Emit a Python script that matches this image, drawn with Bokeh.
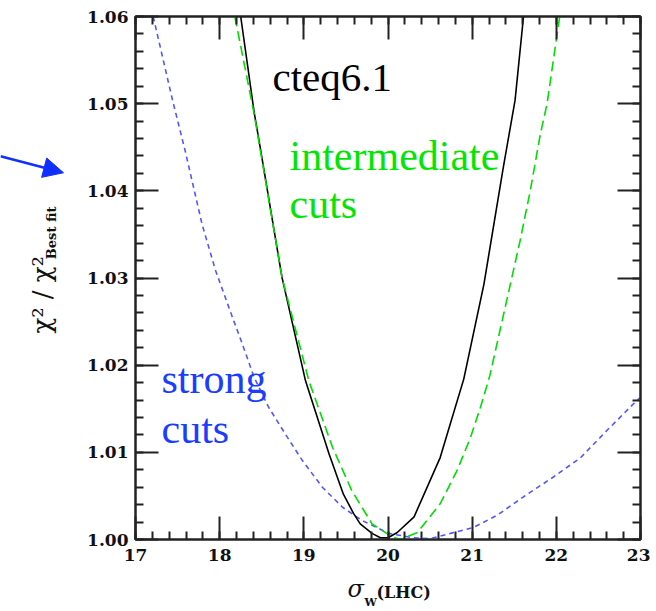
import math
from bokeh.plotting import figure
from bokeh.layouts import row, column
from bokeh.models import (Range1d, LinearAxis, Label, Arrow, NormalHead,
                          SingleIntervalTicker, PrintfTickFormatter, CustomJSTickFormatter)
from bokeh.embed import file_html
from bokeh.resources import INLINE

# ---- data ----
cteq_x = [18.25, 18.41, 18.49, 18.74, 19.02, 19.30, 19.47, 19.59, 19.67, 19.81, 19.91, 20.00,
          20.11, 20.31, 20.62, 20.90, 21.14, 21.37, 21.51, 21.61]
cteq_y = [1.0600, 1.0490, 1.0445, 1.0301, 1.0182, 1.0098, 1.0052, 1.0030, 1.0018, 1.0007, 1.0002, 1.0002,
          1.0008, 1.0026, 1.0094, 1.0184, 1.0293, 1.0427, 1.0504, 1.0600]

inter_x = [18.18, 18.41, 18.74, 19.06, 19.34, 19.57, 19.81, 20.05, 20.15, 20.35, 20.62,
           20.82, 20.98, 21.10, 21.21, 21.41, 21.57, 21.69, 21.81, 21.89, 22.04]
inter_y = [1.0600, 1.0488, 1.0301, 1.0182, 1.0106, 1.0056, 1.0018, 1.0003, 1.0000, 1.0008, 1.0041,
           1.0079, 1.0117, 1.0152, 1.0188, 1.0274, 1.0343, 1.0400, 1.0465, 1.0500, 1.0600]

strong_x = [17.21, 17.44, 17.59, 17.79, 17.95, 18.11, 18.27, 18.41, 18.58, 18.78, 18.98,
            19.22, 19.46, 19.69, 20.01, 20.30, 20.50, 20.74, 21.02, 21.30, 21.61, 21.97,
            22.29, 22.60, 22.92, 23.00]
strong_y = [1.0600, 1.0504, 1.0446, 1.0362, 1.0309, 1.0266, 1.0224, 1.0186, 1.0152, 1.0121, 1.0091,
            1.0060, 1.0037, 1.0022, 1.0007, 1.0002, 1.0001, 1.0007, 1.0014, 1.0028, 1.0049, 1.0072,
            1.0094, 1.0125, 1.0156, 1.0163]

x_range = (17, 23)
y_range = (1.00, 1.06)

# ---- layout geometry (page pixels) ----
LEFT_W = 80          # side panel holding the y title and arrow
MAIN_W = 570
MAIN_H = 569
BOT_H = 42
FX0, FX1, FY0, FY1 = 135.0, 640.0, 539.0, 16.0
MID = 0.34           # distance (in em) from text baseline to the "middle" anchor

def dx(px):
    return x_range[0] + (px - FX0) * (x_range[1] - x_range[0]) / (FX1 - FX0)
def dy(py):
    return y_range[0] + (FY0 - py) * (y_range[1] - y_range[0]) / (FY0 - FY1)

p = figure(width=MAIN_W, height=MAIN_H, x_range=Range1d(*x_range), y_range=Range1d(*y_range),
           output_backend="svg", toolbar_location=None,
           min_border_left=int(FX0) - LEFT_W, min_border_right=MAIN_W - (int(FX1) - LEFT_W),
           min_border_top=int(FY1), min_border_bottom=MAIN_H - int(FY0))
p.grid.visible = False
p.outline_line_color = "#222222"
p.outline_line_width = 2

tick_font = "DejaVu Serif"

def style_axis(ax, show_labels):
    ax.axis_line_color = "#222222"
    ax.axis_line_width = 2
    ax.major_tick_line_color = "#222222"
    ax.minor_tick_line_color = "#222222"
    ax.major_tick_line_width = 2
    ax.minor_tick_line_width = 2
    ax.major_tick_in = 23
    ax.major_tick_out = 0
    ax.minor_tick_in = 8
    ax.minor_tick_out = 0
    if show_labels:
        ax.major_label_text_font = tick_font
        ax.major_label_text_font_size = "17px"
        ax.major_label_text_font_style = "bold"
        ax.major_label_text_color = "#111111"
    else:
        ax.formatter = CustomJSTickFormatter(code="return ''")
        ax.major_label_text_font_size = "0px"
        ax.major_label_standoff = 0

xb = p.xaxis[0]
xb.ticker = SingleIntervalTicker(interval=1, num_minor_ticks=5)
style_axis(xb, True)
xb.major_label_standoff = 9

yl = p.yaxis[0]
yl.ticker = SingleIntervalTicker(interval=0.01, num_minor_ticks=5)
yl.formatter = PrintfTickFormatter(format="%.2f")
style_axis(yl, True)
yl.major_label_standoff = 7

xt = LinearAxis(ticker=SingleIntervalTicker(interval=1, num_minor_ticks=5))
style_axis(xt, False)
p.add_layout(xt, "above")
yr = LinearAxis(ticker=SingleIntervalTicker(interval=0.01, num_minor_ticks=5))
style_axis(yr, False)
p.add_layout(yr, "right")

# curves
p.line(strong_x, strong_y, line_color="#5555ff", line_width=1.6, line_dash="5 4")
p.line(cteq_x, cteq_y, line_color="black", line_width=1.6)
p.line(inter_x, inter_y, line_color="#00dd00", line_width=1.6, line_dash="10 5")

serif = "Liberation Serif"

def add_label(fig, text, x, y, color, size_px, font=serif, style="normal", angle=0.0):
    fig.add_layout(Label(x=x, y=y, text=text, text_color=color,
                         text_font=font, text_font_size=f"{size_px}px", text_font_style=style,
                         text_baseline="middle", text_align="left", angle=angle))

def main_label(text, px, base_py, color, size_px):
    # base_py: page-y of the text baseline
    add_label(p, text, dx(px), dy(base_py - MID * size_px), color, size_px)

main_label("cteq6.1", 272, 90, "black", 41)
main_label("intermediate", 289, 170, "#00e600", 42)
main_label("cuts", 289, 218, "#00e600", 42)
main_label("strong", 161, 393, "#1a3dff", 42)
main_label("cuts", 161, 443, "#1a3dff", 42)

# ---- side panels drawn in their own pixel coordinates ----
def blank(w, h):
    f = figure(width=w, height=h, x_range=Range1d(0, w), y_range=Range1d(0, h),
               output_backend="svg", toolbar_location=None,
               x_axis_type=None, y_axis_type=None,
               min_border_left=0, min_border_right=0, min_border_top=0, min_border_bottom=0)
    f.grid.visible = False
    f.outline_line_color = None
    return f

# left panel: rotated y title + arrow
pl = blank(LEFT_W, MAIN_H)
def vlabel(text, base_px, start_py, size_px, style="normal"):
    add_label(pl, text, base_px - MID * size_px, MAIN_H - start_py, "#111111", size_px,
              font="DejaVu Serif", style=style, angle=math.pi / 2)

vlabel("χ² / χ²", 50, 345, 26)
vlabel("Best fit", 55, 264, 13, style="bold")
pl.add_layout(Arrow(x_start=0, y_start=MAIN_H - 152, x_end=63, y_end=MAIN_H - 170,
                    line_color="#1030ff", line_width=2.5,
                    end=NormalHead(size=20, fill_color="#1030ff", line_color="#1030ff")))

# bottom panel: x title
TOT_W = LEFT_W + MAIN_W
pb = blank(TOT_W, BOT_H)
PB_BOTTOM = MAIN_H + BOT_H
def hlabel(text, px, base_py, size_px, style="normal"):
    add_label(pb, text, px, PB_BOTTOM - base_py + MID * size_px, "#111111", size_px,
              font="DejaVu Serif", style=style)

hlabel("σ", 347, 597, 24, style="italic")
hlabel("W", 364, 606, 11, style="bold")
hlabel("(LHC)", 376, 597, 16, style="bold")

layout = column(row(pl, p, spacing=0), pb, spacing=0)
open("out.html", "w").write(file_html(layout, INLINE))
